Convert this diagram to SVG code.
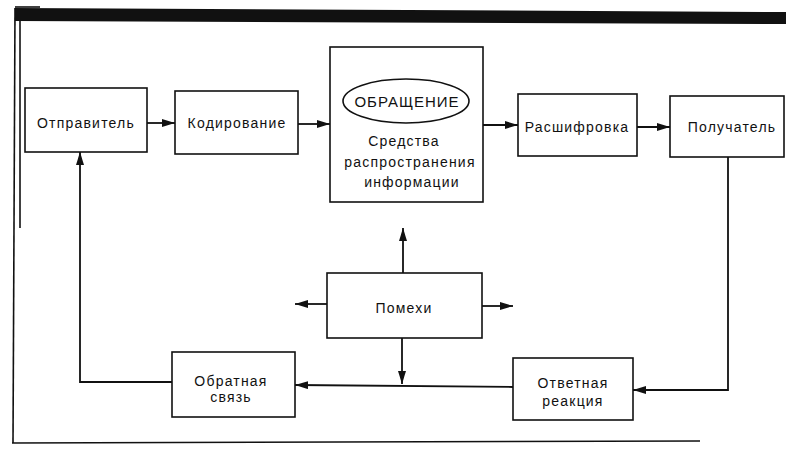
<svg xmlns="http://www.w3.org/2000/svg" width="786" height="452" viewBox="0 0 786 452">
<style>
.box{fill:#fff;stroke:#111;stroke-width:1.6}
.t{font-family:"Liberation Sans",Arial,sans-serif;font-size:14px;letter-spacing:1.2px;fill:#111;text-anchor:middle}
.big{font-size:15px;letter-spacing:1px}
.c{fill:none;stroke:#111;stroke-width:1.8}
.fr{fill:none;stroke:#111;stroke-width:1.6}
</style>
<defs>
<marker id="ah" markerUnits="userSpaceOnUse" markerWidth="14" markerHeight="8" refX="13" refY="4" orient="auto">
<path d="M0,0 L13,4 L0,8 z" fill="#111"/>
</marker>
</defs>
<rect width="786" height="452" fill="#fff"/>
<g id="frame">
<polygon points="15,8 786,12 786,24 15,21" fill="#111"/>
<line class="fr" x1="15" y1="7" x2="40" y2="7" stroke-width="1"/>
<line class="fr" x1="15" y1="8" x2="13" y2="443"/>
<line class="fr" x1="20" y1="21" x2="20" y2="228" stroke-width="1"/>
<line class="fr" x1="12" y1="443" x2="700" y2="441"/>
</g>
<g id="connectors">
<line class="c" x1="147" y1="123" x2="175" y2="123" marker-end="url(#ah)"/>
<line class="c" x1="298" y1="124" x2="330" y2="124" marker-end="url(#ah)"/>
<line class="c" x1="483" y1="125" x2="518" y2="125" marker-end="url(#ah)"/>
<line class="c" x1="637" y1="127" x2="670" y2="127" marker-end="url(#ah)"/>
<polyline class="c" points="728,157 728,390 633,390" marker-end="url(#ah)"/>
<line class="c" x1="513" y1="387" x2="295" y2="385" marker-end="url(#ah)"/>
<polyline class="c" points="172,382 80,382 80,152" marker-end="url(#ah)"/>
<line class="c" x1="403" y1="273" x2="403" y2="228" marker-end="url(#ah)"/>
<line class="c" x1="327" y1="304" x2="295" y2="304" marker-end="url(#ah)"/>
<line class="c" x1="482" y1="306" x2="513" y2="306" marker-end="url(#ah)"/>
<line class="c" x1="402" y1="338" x2="402" y2="384" marker-end="url(#ah)"/>
</g>
<g id="sender">
<rect class="box" x="25" y="88" width="122" height="64"/>
<text class="t" x="86" y="128">Отправитель</text>
</g>
<g id="coding">
<rect class="box" x="175" y="91" width="123" height="63"/>
<text class="t" x="237" y="128">Кодирование</text>
</g>
<g id="media">
<rect class="box" x="330" y="47" width="153" height="155"/>
<ellipse cx="406" cy="101" rx="63" ry="22" fill="none" stroke="#111" stroke-width="1.6"/>
<text class="t big" x="407" y="107">ОБРАЩЕНИЕ</text>
<text class="t" x="404" y="146">Средства</text>
<text class="t" x="410" y="167">распространения</text>
<text class="t" x="412" y="187">информации</text>
</g>
<g id="decoding">
<rect class="box" x="518" y="94" width="119" height="62"/>
<text class="t" x="577" y="132">Расшифровка</text>
</g>
<g id="receiver">
<rect class="box" x="670" y="96" width="114" height="61"/>
<text class="t" x="732" y="132">Получатель</text>
</g>
<g id="noise">
<rect class="box" x="327" y="273" width="155" height="65"/>
<text class="t" x="404" y="313">Помехи</text>
</g>
<g id="feedback">
<rect class="box" x="172" y="352" width="123" height="65"/>
<text class="t" x="231" y="386">Обратная</text>
<text class="t" x="231" y="402">связь</text>
</g>
<g id="response">
<rect class="box" x="513" y="358" width="120" height="62"/>
<text class="t" x="573" y="388">Ответная</text>
<text class="t" x="573" y="406">реакция</text>
</g>
</svg>
